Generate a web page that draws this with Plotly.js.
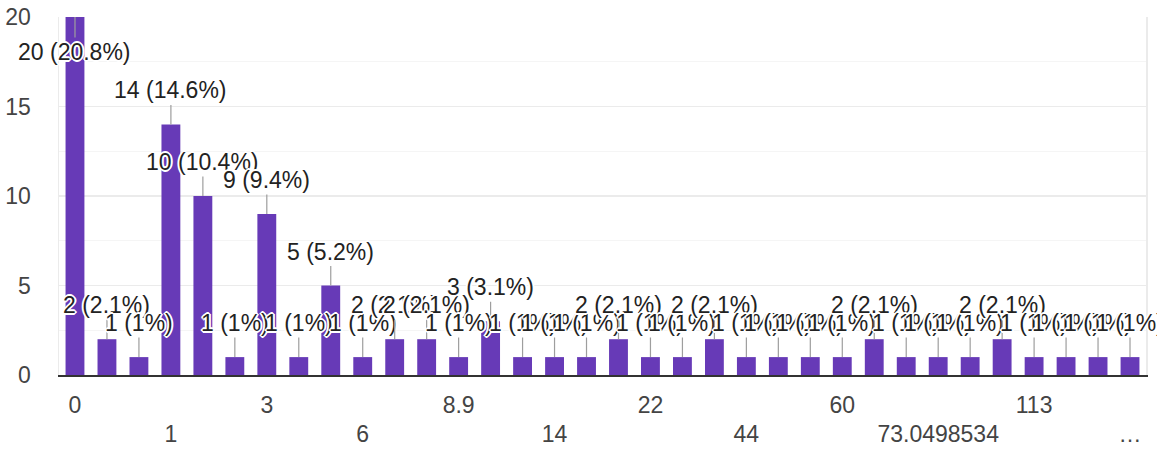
<!DOCTYPE html>
<html>
<head>
<meta charset="utf-8">
<script src="https://cdn.plot.ly/plotly-3.0.1.min.js"></script>
<style>html,body{margin:0;padding:0;background:#fff;}#chart{width:1157px;height:450px;}</style>
</head>
<body>
<div id="chart"></div>
<script>
// Categories (only every third label is readable in the reference; the others are estimates)
const categories = ["0","0.5","0.75","1","2","2.5","3","4","5","6","7","8","8.9","10","12","14","15","20","22","25","30","44","50","55","60","65","70","73.0498534","80","100","113","120","150","…"];
const counts = [20,2,1,14,10,1,9,1,5,1,2,2,1,3,1,1,1,2,1,1,2,1,1,1,1,2,1,1,1,2,1,1,1,1];
const tickRow1 = ["0","3","8.9","22","60","113"];
const tickRow2 = ["1","6","14","44","73.0498534","…"];
const yTicks = [0,5,10,15,20];

const total = counts.reduce((a,b)=>a+b,0);
const maxCount = Math.max(...counts);
const FONT = "'Liberation Sans', Arial, sans-serif";
const FS = 23;
const halo = "2px 0 0 #fff, -2px 0 0 #fff, 0 2px 0 #fff, 0 -2px 0 #fff, 1px 1px 0 #fff, -1px -1px 0 #fff, 1px -1px 0 #fff, -1px 1px 0 #fff";

const traces = [
  {type:'bar', x:categories, y:counts, marker:{color:'#673ab7'}, hoverinfo:'x+y', xaxis:'x', yaxis:'y'},
  {type:'scatter', mode:'markers', x:categories, y:counts, marker:{opacity:0}, hoverinfo:'skip', xaxis:'x2', yaxis:'y', showlegend:false}
];

const annotations = counts.map((v,i)=>{
  const pct = parseFloat((v/total*100).toFixed(1));
  return {
    x: i, y: v, xref:'x', yref:'y',
    text: v + ' (' + pct + '%)',
    showarrow:true, arrowhead:0, arrowwidth:1.2, arrowcolor:'#9e9e9e', standoff:0,
    ax:0, ay: (v === maxCount) ? 35 : -34,
    font:{family:FONT, size:FS, color:'#222', shadow: halo}
  };
});

const range = [-0.5, categories.length - 0.5];
const tickFont = {family:FONT, size:FS, color:'#444'};
const layout = {
  width:1157, height:450,
  margin:{l:59, r:11, t:17, b:75},
  paper_bgcolor:'#fff', plot_bgcolor:'#fff',
  showlegend:false, bargap:0.41,
  xaxis:{type:'category', categoryorder:'array', categoryarray:categories, range:range,
    tickmode:'array', tickvals:tickRow1, ticktext:tickRow1, ticks:'', showgrid:false,
    showline:true, linecolor:'#333', linewidth:2, zeroline:false,
    tickfont:tickFont, ticklabelstandoff:8, fixedrange:true},
  xaxis2:{type:'category', categoryorder:'array', categoryarray:categories, range:range,
    overlaying:'x', anchor:'y', side:'bottom',
    tickmode:'array', tickvals:tickRow2, ticktext:tickRow2, ticks:'', showgrid:false,
    showline:false, zeroline:false,
    tickfont:tickFont, ticklabelstandoff:43, fixedrange:true},
  yaxis:{range:[0,20], tickmode:'array', tickvals:yTicks, ticks:'',
    gridcolor:'#ebebeb', gridwidth:1.5, zeroline:false,
    minor:{dtick:2.5, showgrid:true, gridcolor:'#f5f5f5', gridwidth:1},
    showline:true, mirror:true, linecolor:'#ebebeb', linewidth:1.5,
    tickfont:tickFont, ticklabelstandoff:22, fixedrange:true},
  annotations:annotations
};

Plotly.newPlot('chart', traces, layout, {displayModeBar:false, staticPlot:true});
</script>
</body>
</html>
